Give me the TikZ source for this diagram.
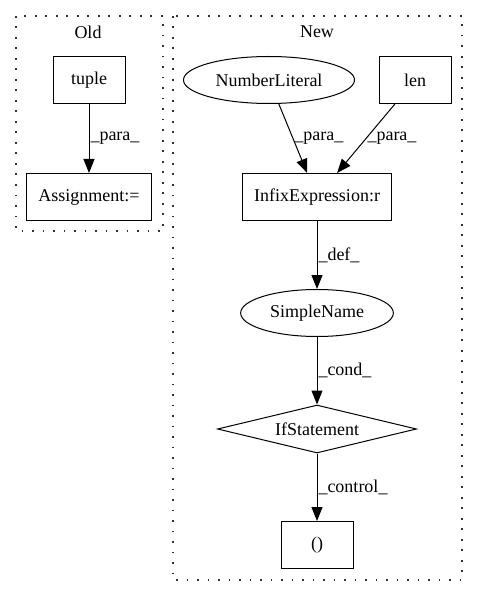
\documentclass[tikz,border=0pt]{standalone}
\usepackage{fontspec}
\setmainfont{Liberation Serif}
\usetikzlibrary{shapes.geometric,arrows.meta}
\tikzset{
  every node/.style={font=\fontsize{18}{22}\selectfont},
  box/.style={draw,rectangle,minimum width=72pt,minimum height=47pt,inner xsep=12pt},
  oval/.style={draw,ellipse,minimum height=47pt,inner xsep=7pt},
  cond/.style={draw,diamond,aspect=4.15,inner sep=0pt,minimum width=199pt,minimum height=48pt},
  cluster/.style={dash pattern=on 1.6pt off 8.9pt,line width=1.1pt,black!80},
  edge/.style={-{Triangle[length=14pt,width=11pt]},line width=1pt},
  elabel/.style={midway,right,inner sep=1pt}
}
\begin{document}
\begin{tikzpicture}[x=1pt,y=-1pt,line width=1pt]
  \useasboundingbox (0,0) rectangle (477,596);
  % clusters
  \draw[cluster] (16,16) rectangle (163,231);
  \draw[cluster] (173,16) rectangle (462,580);
  \node (oldlbl) at (88,32) {Old};
  \node (newlbl) at (317,32) {New};
  % old
  \node[box] (tuple) at (89,80) {tuple};
  \node[box] (assign) at (89,197) {Assignment:=};
  \draw[edge] (tuple) -- (assign) node[elabel]{\_para\_};
  % new
  \node[oval] (numlit) at (269,80) {NumberLiteral};
  \node[box] (len) at (415,80) {len};
  \node[box] (infix) at (317,197) {InfixExpression:r};
  \node[oval] (simplename) at (317,313) {SimpleName};
  \node[cond] (ifstmt) at (317,429) {IfStatement};
  \node[box] (paren) at (317,545) {()};
  \draw[edge] (numlit) -- (infix) node[elabel]{\_para\_};
  \draw[edge] (len) -- (infix) node[elabel]{\_para\_};
  \draw[edge] (infix) -- (simplename) node[elabel]{\_def\_};
  \draw[edge] (simplename) -- (ifstmt) node[elabel]{\_cond\_};
  \draw[edge] (ifstmt) -- (paren) node[elabel]{\_control\_};
\end{tikzpicture}
\end{document}
